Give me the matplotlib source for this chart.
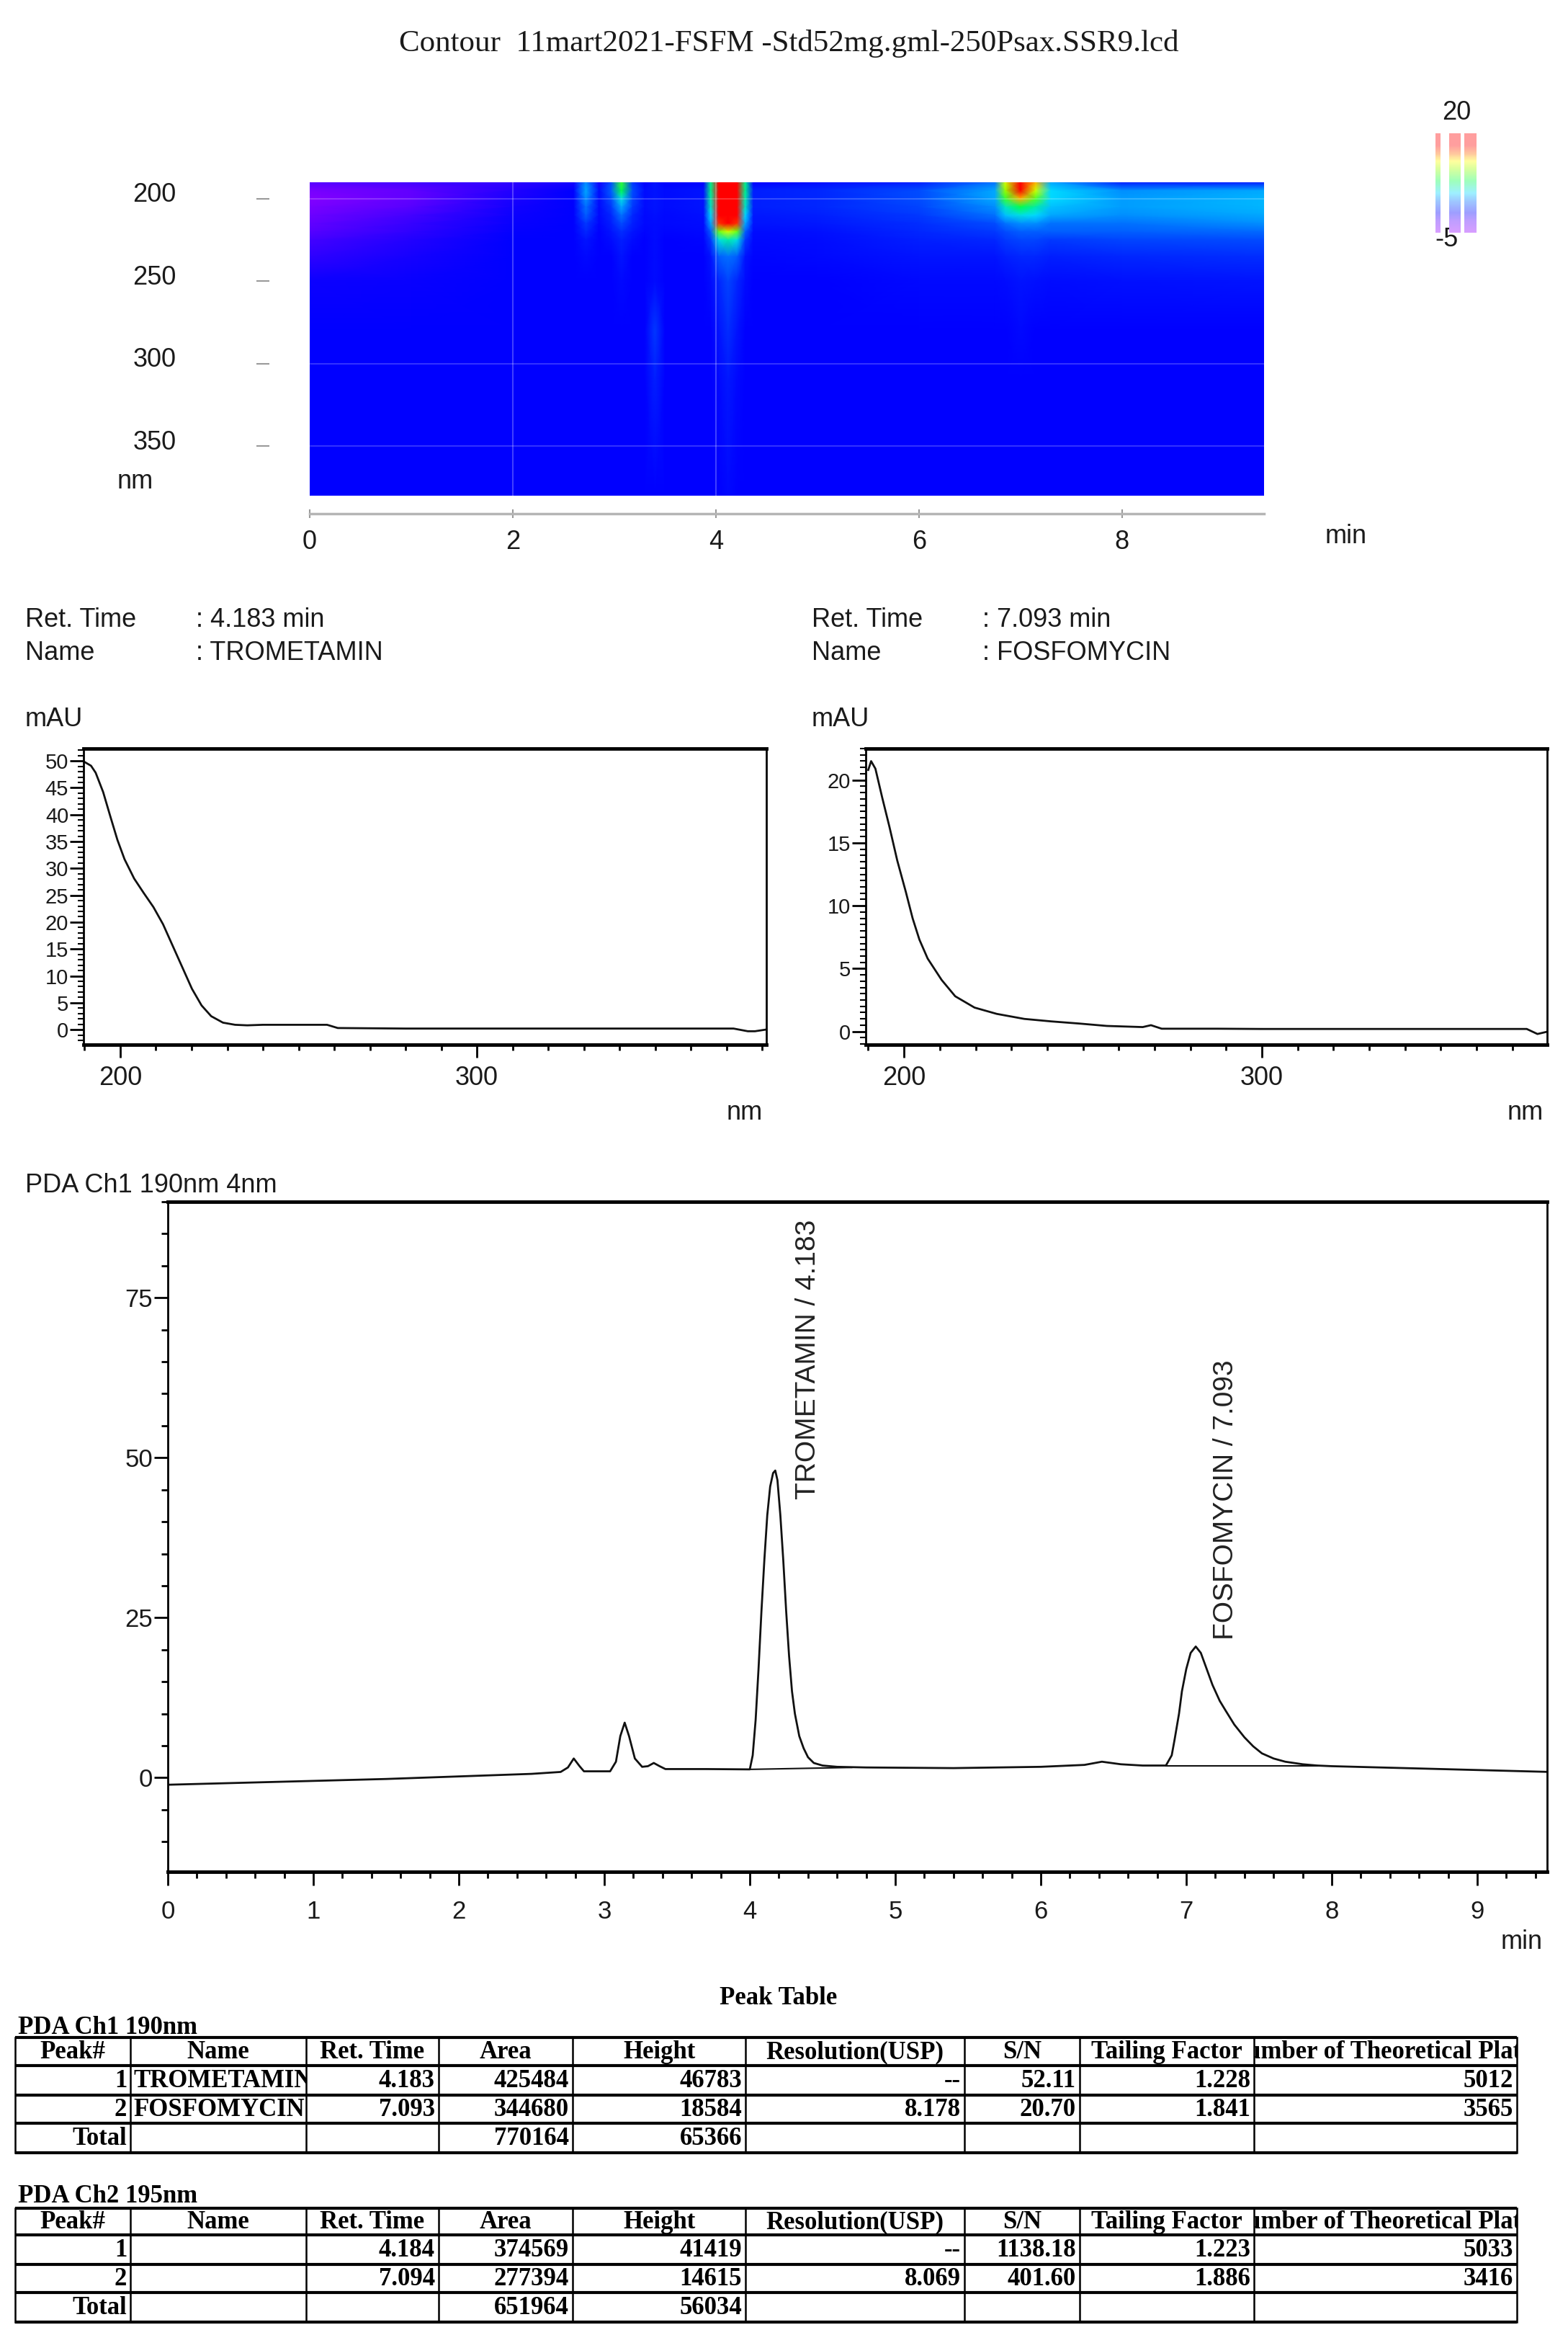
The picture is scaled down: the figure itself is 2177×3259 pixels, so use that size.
import matplotlib
matplotlib.use('Agg')
import matplotlib.pyplot as plt
import numpy as np
from matplotlib.colors import LinearSegmentedColormap
from matplotlib.patches import Rectangle
from matplotlib.ticker import MultipleLocator
from matplotlib.transforms import ScaledTranslation

title = 'Contour  11mart2021-FSFM -Std52mg.gml-250Psax.SSR9.lcd'

# mappa PDA: colonne = tempo (min), righe = lunghezza d'onda (nm), valori in mAU
contour_t = [0.0, 1.0, 2.0, 2.6, 2.72, 2.85, 2.97, 3.07, 3.18, 3.3, 3.4, 3.5, 3.88, 3.95,
             4.03, 4.12, 4.21, 4.29, 4.37, 5.0, 6.0, 6.75, 6.85, 7.0, 7.15, 7.3, 8.0, 9.4]
contour_nm = [190, 195, 200, 205, 210, 215, 220, 225, 235, 250, 280, 310, 380]
contour_cols = [
    [-2, -3.5, -4, -3.5, -3, -2.5, -2, -1.5, -1, -0.3, 0, 0, 0],
    [-1.5, -2.5, -2.5, -2, -1.5, -1.2, -1, -0.8, -0.5, -0.2, 0, 0, 0],
    [-1, -0.8, -0.6, -0.4, -0.3, -0.2, -0.1, 0, 0, 0, 0, 0, 0],
    [-0.5, 0, 0, 0, 0, 0, 0, 0, 0, 0, 0, 0, 0],
    [3.5, 4, 3.5, 3, 2.5, 1.5, 1, 0.5, 0.2, 0, 0, 0, 0],
    [-0.5, 0.3, 0.3, 0.2, 0.2, 0.1, 0, 0, 0, 0, 0, 0, 0],
    [2, 2.5, 2, 1.5, 1, 0.8, 0.5, 0.3, 0, 0, 0, 0, 0],
    [9, 8, 5.5, 4, 3, 2, 1.2, 0.8, 0.5, 0.2, 0, 0, 0],
    [1.5, 2, 1.8, 1.5, 1, 0.8, 0.5, 0.3, 0, 0, 0, 0, 0],
    [0, 0.3, 0.3, 0.3, 0.2, 0.2, 0.1, 0, 0, 0, 0, 0, 0],
    [0.5, 0.5, 0.5, 0.5, 0.4, 0.3, 0.3, 0.3, 0.3, 0.3, 1.5, 0.8, 0],
    [0, 0.3, 0.3, 0.3, 0.2, 0.2, 0.1, 0, 0, 0, 0, 0, 0],
    [0, 0.5, 0.5, 0.5, 0.4, 0.3, 0.2, 0.1, 0, 0, 0, 0, 0],
    [7, 7, 6.5, 6, 5, 4, 2.5, 1.5, 0.5, 0.3, 0, 0, 0],
    [26, 25, 24, 22, 20, 16, 10, 5.5, 2.5, 1, 0.5, 0.2, 0],
    [35, 32, 28, 24, 21, 18, 12, 6.5, 3, 1.8, 1.2, 0.6, 0.2],
    [26, 25, 24, 22, 20, 16, 10, 5.5, 2.5, 1, 0.5, 0.2, 0],
    [7, 7, 6.5, 6, 5, 4, 2.5, 1.5, 0.5, 0.3, 0, 0, 0],
    [0, 0.8, 0.8, 0.8, 0.6, 0.5, 0.3, 0.2, 0.1, 0, 0, 0, 0],
    [0.3, 1, 1, 1, 0.8, 0.6, 0.4, 0.3, 0.2, 0, 0, 0, 0],
    [0.8, 2, 2, 1.8, 1.5, 1.2, 1, 0.8, 0.5, 0.2, 0, 0, 0],
    [3, 4, 4, 3.5, 3, 2, 1.5, 1, 0.5, 0.2, 0, 0, 0],
    [12, 11, 9, 6, 4.5, 3, 2, 1.5, 0.8, 0.3, 0, 0, 0],
    [24, 21, 14, 8, 5.5, 3.5, 2.5, 1.8, 1, 0.5, 0.2, 0, 0],
    [14, 12, 9.5, 6.5, 5, 3.5, 2.5, 1.8, 1, 0.4, 0, 0, 0],
    [4, 5, 5, 4.5, 4, 3, 2.5, 1.5, 0.8, 0.3, 0, 0, 0],
    [0.8, 3.5, 3.8, 3.8, 3.5, 3, 2.5, 1.8, 1, 0.4, 0, 0, 0],
    [0.8, 4, 4.3, 4.3, 4, 3.5, 2.8, 2, 1.2, 0.5, 0, 0, 0],
]

# spettri UV dei due picchi
spec_names = ['TROMETAMIN', 'FOSFOMYCIN']
spec_rt = ['4.183', '7.093']
spec1_nm = [190, 191.8, 193.1, 195.2, 197.2, 199.2, 201.2, 203.9, 206.6, 209.3, 212, 214.7,
            217.4, 220.1, 222.8, 225.5, 228.8, 232.2, 235.6, 240, 250, 258, 261, 280, 300,
            330, 360, 372, 376, 378, 381]
spec1_mau = [49.8, 49.1, 47.8, 44.2, 39.7, 35.3, 31.7, 28.1, 25.4, 22.8, 19.6, 15.6,
             11.6, 7.6, 4.5, 2.5, 1.3, 0.9, 0.8, 0.9, 0.9, 0.9, 0.3, 0.2, 0.2,
             0.2, 0.2, 0.2, -0.3, -0.3, 0.0]
spec2_nm = [190, 190.8, 192, 193.9, 195.9, 198.1, 200.5, 202.4, 204.3, 206.6, 210.5, 214.3,
            219.7, 225.9, 233.6, 241.2, 249, 256.7, 266.7, 269, 272, 287.5, 300, 330, 360,
            374, 377, 380]
spec2_mau = [20.8, 21.5, 20.9, 18.6, 16.3, 13.6, 11.1, 9.0, 7.3, 5.8, 4.1, 2.8,
             1.9, 1.4, 1.0, 0.8, 0.63, 0.44, 0.35, 0.5, 0.22, 0.22, 0.2, 0.2, 0.2,
             0.2, -0.2, 0.0]

# cromatogramma PDA Ch1 190nm
chrom_t = [0.0, 0.5, 1.0, 1.5, 2.0, 2.5, 2.70, 2.75, 2.79, 2.83, 2.86, 3.04, 3.08, 3.11,
           3.14, 3.17, 3.21, 3.26, 3.30, 3.34, 3.38, 3.42, 3.70, 4.00, 4.02, 4.04, 4.06,
           4.08, 4.10, 4.12, 4.14, 4.16, 4.175, 4.19, 4.21, 4.23, 4.25, 4.27, 4.29, 4.31,
           4.34, 4.37, 4.40, 4.44, 4.50, 4.60, 4.80, 5.40, 6.00, 6.30, 6.42, 6.55, 6.70,
           6.86, 6.90, 6.92, 6.95, 6.97, 7.00, 7.03, 7.065, 7.10, 7.14, 7.18, 7.23, 7.27,
           7.33, 7.40, 7.46, 7.52, 7.60, 7.68, 7.80, 7.90, 8.00, 8.50, 8.75, 9.00, 9.50]
chrom_mau = [-1.1, -0.8, -0.5, -0.2, 0.2, 0.6, 0.9, 1.6, 3.0, 1.8, 1.0, 1.0, 2.5, 6.5,
             8.6, 6.5, 3.0, 1.7, 1.8, 2.3, 1.8, 1.35, 1.35, 1.3, 3.5, 9.0, 17.0,
             26.0, 34.0, 41.0, 45.5, 47.6, 48.0, 46.5, 41.0, 34.0, 26.0, 19.0, 13.5, 10.0,
             6.5, 4.6, 3.2, 2.3, 1.9, 1.7, 1.6, 1.5, 1.7, 2.0, 2.5, 2.1, 1.9,
             1.9, 3.5, 6.0, 10.0, 13.5, 17.0, 19.5, 20.5, 19.5, 17.0, 14.5, 12.0, 10.5,
             8.3, 6.3, 4.9, 3.8, 3.0, 2.5, 2.1, 1.9, 1.8, 1.5, 1.35, 1.2, 0.9]
# linee di base dell'integrazione (inizio, fine)
base_t = [[4.00, 4.70], [6.86, 7.90]]
base_mau = [[1.3, 1.6], [1.9, 1.9]]

# tabella dei picchi
table_cols = ['Peak#', 'Name', 'Ret. Time', 'Area', 'Height', 'Resolution(USP)', 'S/N',
              'Tailing Factor', 'Number of Theoretical Plates']
ch1_names = ['TROMETAMIN', 'FOSFOMYCIN']
ch1_rt = ['4.183', '7.093']
ch1_area = [425484, 344680]
ch1_height = [46783, 18584]
ch1_res = ['--', '8.178']
ch1_sn = ['52.11', '20.70']
ch1_tail = ['1.228', '1.841']
ch1_plates = [5012, 3565]
ch1_total = [770164, 65366]
ch2_names = ['', '']
ch2_rt = ['4.184', '7.094']
ch2_area = [374569, 277394]
ch2_height = [41419, 14615]
ch2_res = ['--', '8.069']
ch2_sn = ['1138.18', '401.60']
ch2_tail = ['1.223', '1.886']
ch2_plates = [5033, 3416]
ch2_total = [651964, 56034]

# ---------------- figura ----------------
W, H = 2177, 3259
plt.rcParams['font.family'] = ['Liberation Sans', 'DejaVu Sans']
fig = plt.figure(figsize=(W / 100, H / 100), dpi=100)
TXT = '#1a1a1a'


def px_axes(l, t, r, b):
    # crea un asse a partire da coordinate in pixel
    return fig.add_axes([l / W, 1 - b / H, (r - l) / W, (b - t) / H])


page = fig.add_axes([0, 0, 1, 1])
page.set_xlim(0, W)
page.set_ylim(H, 0)
page.axis('off')


def ptext(x, y, s, **kw):
    kw.setdefault('fontsize', 26)
    kw.setdefault('color', TXT)
    kw.setdefault('va', 'center')
    return page.text(x, y, s, **kw)


# titolo
ptext(1095, 60, title, ha='center', family='Liberation Serif', fontsize=31)

# ---- mappa di contorno ----
cmap_vals = [-5, -2, 0, 3, 5, 8, 11, 13, 15, 17, 20]
cmap_cols = ['#9900ff', '#5500ff', '#0000ff', '#0073ff', '#00d9ff', '#00ff4d',
             '#99ff00', '#ffff00', '#ff6600', '#ff0000', '#ff0000']
pda_cmap = LinearSegmentedColormap.from_list(
    'pda', list(zip((np.array(cmap_vals) + 5) / 25, cmap_cols)))

axc = px_axes(430, 253, 1755, 688)
Z = np.array(contour_cols).T
mesh = axc.pcolormesh(contour_t, contour_nm, Z, cmap=pda_cmap, vmin=-5, vmax=20,
                      shading='gouraud')
axc.set_xlim(0, 9.4)
axc.set_ylim(380, 190)
for xv in [2, 4]:
    axc.axvline(xv, color='white', alpha=0.25, lw=1.5)
for yv in [200, 300, 350]:
    axc.axhline(yv, color='white', alpha=0.2, lw=1.5)
axc.set_xticks([0, 2, 4, 6, 8])
axc.set_yticks([200, 250, 300, 350])
axc.spines['top'].set_visible(False)
axc.spines['right'].set_visible(False)
axc.spines['left'].set_position(('outward', 47))
axc.spines['left'].set_visible(False)
axc.spines['bottom'].set_position(('outward', 18))
axc.spines['bottom'].set_color('#b5b5b5')
axc.spines['bottom'].set_linewidth(2.5)
axc.tick_params(axis='y', direction='inout', length=13, width=1.5, color='#9a9a9a',
                pad=80, labelsize=26, labelcolor=TXT)
axc.tick_params(axis='x', direction='inout', length=8, width=1.5, color='#9a9a9a',
                pad=12, labelsize=26, labelcolor=TXT)
# le etichette nm stanno un poco sopra i trattini
lift = ScaledTranslation(0, 0.09, fig.dpi_scale_trans)
for lab in axc.get_yticklabels():
    lab.set_transform(lab.get_transform() + lift)
ptext(188, 668, 'nm', ha='center')
ptext(1869, 745, 'min', ha='center')

# barra dei colori sbiadita (tre strisce)
for l, r in [(1993, 2000), (2012, 2028), (2033, 2050)]:
    cax = px_axes(l, 185, r, 323)
    cb = fig.colorbar(mesh, cax=cax)
    cb.solids.set_alpha(0.38)
    cb.outline.set_visible(False)
    cax.set_yticks([])
ptext(2022, 157, '20', ha='center')
ptext(2008, 333, '-5', ha='center')

# ---- spettri ----
spec_boxes = [(116, 1039, 1064, 1450), (1202, 1039, 2148, 1450)]
spec_x = [spec1_nm, spec2_nm]
spec_y = [spec1_mau, spec2_mau]
spec_xlim = [(189.7, 381.2), (189.3, 379.7)]
spec_ylim = [(-2.8, 52.3), (-1.05, 22.5)]
spec_minor = [1, 0.5]
text_x = [(35, 272), (1127, 1364)]
for i in range(2):
    l, t, r, b = spec_boxes[i]
    ax = px_axes(l, t, r, b)
    ax.plot(spec_x[i], spec_y[i], color='#111111', lw=2)
    ax.set_xlim(*spec_xlim[i])
    ax.set_ylim(*spec_ylim[i])
    ax.xaxis.set_major_locator(MultipleLocator(100))
    ax.xaxis.set_minor_locator(MultipleLocator(10))
    ax.yaxis.set_major_locator(MultipleLocator(5))
    ax.yaxis.set_minor_locator(MultipleLocator(spec_minor[i]))
    ax.tick_params(axis='x', which='major', direction='out', length=13, width=2,
                   pad=8, labelsize=26, labelcolor=TXT)
    ax.tick_params(axis='x', which='minor', direction='out', length=6, width=2)
    ax.tick_params(axis='y', which='major', direction='out', length=14, width=2,
                   pad=1, labelsize=21, labelcolor=TXT)
    ax.tick_params(axis='y', which='minor', direction='out', length=5.5, width=1.5)
    for s in ['top', 'bottom']:
        ax.spines[s].set_linewidth(3.5)
    for s in ['left', 'right']:
        ax.spines[s].set_linewidth(2)
    tx, vx = text_x[i]
    ptext(tx, 860, 'Ret. Time')
    ptext(vx, 860, ': ' + spec_rt[i] + ' min')
    ptext(tx, 906, 'Name')
    ptext(vx, 906, ': ' + spec_names[i])
    ptext(tx, 998, 'mAU')
    ptext(r - 30, 1544, 'nm', ha='center')

# ---- cromatogramma ----
ptext(35, 1645, 'PDA Ch1 190nm 4nm')
axm = px_axes(233, 1668, 2148, 2598)
axm.plot(chrom_t, chrom_mau, color='#111111', lw=2)
for bt, bm in zip(base_t, base_mau):
    axm.plot(bt, bm, color='#111111', lw=1.5)
axm.set_xlim(0, 9.48)
axm.set_ylim(-14.7, 90)
axm.xaxis.set_major_locator(MultipleLocator(1))
axm.xaxis.set_minor_locator(MultipleLocator(0.2))
axm.yaxis.set_major_locator(MultipleLocator(25))
axm.yaxis.set_minor_locator(MultipleLocator(5))
axm.tick_params(which='major', direction='out', length=14, width=2, labelsize=25,
                labelcolor=TXT)
axm.tick_params(which='minor', direction='out', length=6.5, width=2)
axm.tick_params(axis='x', which='major', pad=14)
axm.tick_params(axis='y', which='major', pad=1)
for s in ['top', 'bottom']:
    axm.spines[s].set_linewidth(3.5)
for s in ['left', 'right']:
    axm.spines[s].set_linewidth(2)
label_dx = [0.22, 0.18]
label_dy = [-3.3, 3.0]
for i in range(2):
    axm.text(float(spec_rt[i]) + label_dx[i], ch1_height[i] / 1000 + label_dy[i],
             spec_names[i] + ' / ' + spec_rt[i], rotation=90, ha='center', va='bottom',
             fontsize=28, color='#222222')
ptext(2113, 2695, 'min', ha='center')

# ---- tabella dei picchi ----
col_edges = [21, 181, 425, 609, 795, 1035, 1339, 1499, 1741, 2106]
TFONT = dict(family='Liberation Serif', fontweight='bold', fontsize=25, color='black')
ptext(1081, 2773, 'Peak Table', ha='center', **TFONT)


def draw_table(row_edges, label, label_y, names, rt, area, height, res, sn, tail,
               plates, total):
    ptext(25, label_y, label, ha='left', **TFONT)
    rows = [table_cols]
    for i in range(2):
        rows.append([str(i + 1), names[i], rt[i], str(area[i]), str(height[i]), res[i],
                     sn[i], tail[i], str(plates[i])])
    rows.append(['Total', '', '', str(total[0]), str(total[1]), '', '', '', ''])
    x0, x1 = col_edges[0], col_edges[-1]
    for y in row_edges:
        page.plot([x0, x1], [y, y], color='black', lw=3, solid_capstyle='butt')
    for x in col_edges:
        page.plot([x, x], [row_edges[0], row_edges[-1]], color='black', lw=1.8)
    for ri, row in enumerate(rows):
        ya, yb = row_edges[ri], row_edges[ri + 1]
        ym = (ya + yb) / 2 + 1
        for ci, s in enumerate(row):
            if not s:
                continue
            ca, cb_ = col_edges[ci], col_edges[ci + 1]
            if ri == 0:
                x, ha = (ca + cb_) / 2, 'center'
            elif ci == 1:
                x, ha = ca + 4, 'left'
            else:
                x, ha = cb_ - 5, 'right'
            t = ptext(x, ym, s, ha=ha, clip_on=True, **TFONT)
            t.set_clip_path(Rectangle((ca, ya), cb_ - ca, yb - ya,
                                      transform=page.transData))


draw_table([2828, 2867, 2908, 2947, 2988], 'PDA Ch1 190nm', 2814, ch1_names, ch1_rt,
           ch1_area, ch1_height, ch1_res, ch1_sn, ch1_tail, ch1_plates, ch1_total)
draw_table([3065, 3102, 3143, 3182, 3223], 'PDA Ch2 195nm', 3048, ch2_names, ch2_rt,
           ch2_area, ch2_height, ch2_res, ch2_sn, ch2_tail, ch2_plates, ch2_total)

fig.savefig('out.png', dpi=100)
